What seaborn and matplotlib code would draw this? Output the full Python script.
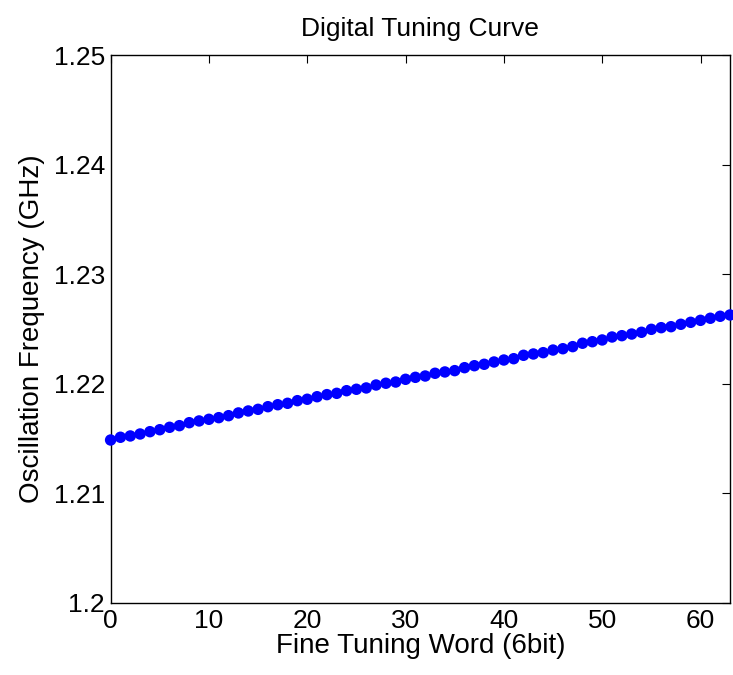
import matplotlib
matplotlib.use("Agg")
import matplotlib.pyplot as plt
import seaborn as sns
import pandas as pd

tuning_word = list(range(64))
freq_ghz = [
    1.21487, 1.21512, 1.21524, 1.21542, 1.21563, 1.21581, 1.21603, 1.21618,
    1.21645, 1.21661, 1.21676, 1.21691, 1.21709, 1.21734, 1.21752, 1.21767,
    1.21791, 1.21809, 1.21822, 1.21846, 1.21859, 1.21882, 1.21901, 1.21913,
    1.21937, 1.21950, 1.21962, 1.21989, 1.22005, 1.22016, 1.22041, 1.22059,
    1.22071, 1.22096, 1.22108, 1.22120, 1.22147, 1.22165, 1.22178, 1.22199,
    1.22217, 1.22229, 1.22260, 1.22272, 1.22284, 1.22308, 1.22320, 1.22339,
    1.22370, 1.22384, 1.22400, 1.22427, 1.22439, 1.22454, 1.22470, 1.22497,
    1.22512, 1.22521, 1.22543, 1.22561, 1.22579, 1.22598, 1.22616, 1.22628,
]
x_ticks = [0, 10, 20, 30, 40, 50, 60]
y_ticks = [1.20, 1.21, 1.22, 1.23, 1.24, 1.25]
y_tick_labels = ["1.2", "1.21", "1.22", "1.23", "1.24", "1.25"]

sns.set_theme(style="white")
plt.rcParams["font.family"] = ["Liberation Sans", "DejaVu Sans"]

df = pd.DataFrame({"word": tuning_word, "freq": freq_ghz})

fig = plt.figure(figsize=(7.33, 6.75), dpi=100)
ax = fig.add_axes([0.1509, 0.1067, 0.8450, 0.8118])

sns.scatterplot(data=df, x="word", y="freq", ax=ax, color="#0000ff",
                s=68, linewidth=0, edgecolor="none", clip_on=False, zorder=3)

ax.set_xlim(0, 63)
ax.set_ylim(1.2, 1.25)
ax.set_xticks(x_ticks)
ax.set_yticks(y_ticks)
ax.set_yticklabels(y_tick_labels)
ax.tick_params(direction="in", length=6, width=0.8, top=True, right=True,
               labelsize=19, colors="black", pad=4)
for sp in ax.spines.values():
    sp.set_visible(True)
    sp.set_color("black")
    sp.set_linewidth(1.0)

ax.set_xlabel("Fine Tuning Word (6bit)", fontsize=20, color="black", labelpad=0)
ax.set_ylabel("Oscillation Frequency (GHz)", fontsize=20, color="black", labelpad=6)
ax.set_title("Digital Tuning Curve", fontsize=19, color="black", pad=14)

fig.savefig("out.png", dpi=100)
